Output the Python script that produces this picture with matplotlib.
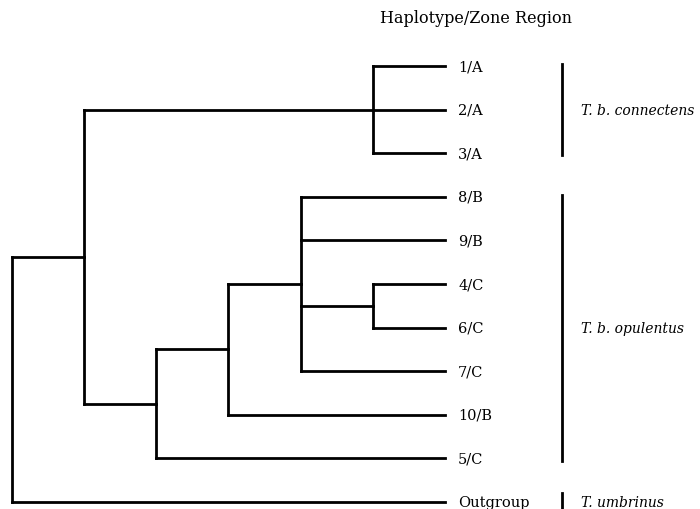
import matplotlib
matplotlib.use('Agg')
import matplotlib.pyplot as plt

# leaf order top to bottom
leaves = ['1/A', '2/A', '3/A', '8/B', '9/B', '4/C', '6/C', '7/C', '10/B', '5/C', 'Outgroup']
tip_depth = 6
# (node depth, children)
tree = (0, [(1, [(5, ['1/A', '2/A', '3/A']),
                 (2, [(3, [(4, ['8/B', '9/B', (5, ['4/C', '6/C']), '7/C']), '10/B']), '5/C'])]),
            'Outgroup'])
groups = [('T. b. connectens', '1/A', '3/A'),
          ('T. b. opulentus', '8/B', '5/C'),
          ('T. umbrinus', 'Outgroup', 'Outgroup')]
header = 'Haplotype/Zone Region'

lw = 2.0
fnt = 'DejaVu Serif'
fs = 10.5
fig = plt.figure(figsize=(7, 5.1), dpi=100)
ax = fig.add_axes([0, 0, 1, 1])
ax.set_xlim(-0.166, 9.533)
ax.set_ylim(10.16, -1.537)
ax.axis('off')


def draw(node):
    if isinstance(node, str):
        return leaves.index(node), tip_depth
    depth, children = node
    ys = []
    for c in children:
        y, d = draw(c)
        ax.plot([depth, d], [y, y], color='k', lw=lw, solid_capstyle='projecting')
        ys.append(y)
    ax.plot([depth, depth], [min(ys), max(ys)], color='k', lw=lw, solid_capstyle='projecting')
    return (min(ys) + max(ys)) / 2, depth


draw(tree)

for i, name in enumerate(leaves):
    ax.text(tip_depth + 0.18, i, name, ha='left', va='center',
            fontsize=fs, family=fnt)

ax.text(6.43, -1.12, header, ha='center', va='center', fontsize=11.5, family=fnt)

for label, a, b in groups:
    y0, y1 = leaves.index(a), leaves.index(b)
    pad = 0.05 if y1 > y0 else 0.2
    ax.plot([7.62, 7.62], [y0 - pad, y1 + pad], color='k', lw=2.0)
    ax.text(7.88, (y0 + y1) / 2, label, ha='left', va='center', fontsize=10,
            family=fnt, style='italic')

fig.savefig('out.png', dpi=100)
